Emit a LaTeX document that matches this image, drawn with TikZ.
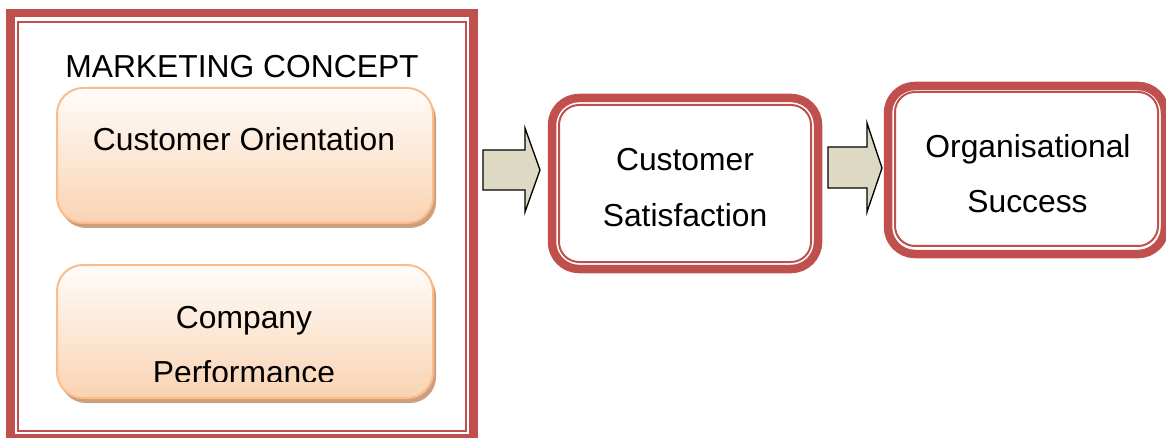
\documentclass[tikz,border=0pt]{standalone}
\usepackage{fontspec}
\setmainfont{Liberation Sans}
\usetikzlibrary{shadows}
\definecolor{framered}{RGB}{192,80,77}
\definecolor{peachline}{RGB}{250,188,138}
\definecolor{peachtop}{RGB}{255,252,250}
\definecolor{peachbot}{RGB}{249,211,178}
\definecolor{peachshadow}{RGB}{204,160,126}
\definecolor{arrowfill}{RGB}{221,217,195}
\tikzset{
  thickframe/.style={draw=framered, line width=8.5pt, inner sep=0pt, outer sep=0pt},
  thinframe/.style={draw=framered, line width=2pt, inner sep=0pt, outer sep=0pt},
  peachbox/.style={draw=peachline, line width=2pt, rounded corners=26pt,
     top color=peachtop, bottom color=peachbot, inner sep=0pt, outer sep=0pt,
     minimum width=376pt,
     drop shadow={shadow xshift=3pt, shadow yshift=-5pt, fill=peachshadow, opacity=1}},
  label/.style={font=\fontsize{31.8}{38}\selectfont, anchor=base, inner sep=0pt},
  blockarrow/.style={draw=black, fill=arrowfill, line width=1.3pt, line join=miter}
}
\begin{document}
\begin{tikzpicture}[x=1pt,y=-1pt]
\useasboundingbox (0,0) rectangle (1166,438);
% left frame
\node[thickframe, minimum width=463pt, minimum height=425pt] (frameout) at (242,225.5) {};
\node[thinframe, minimum width=447.7pt, minimum height=409.6pt] (framein) at (242.15,226.5) {};
\node[label] (title) at (242,78) {MARKETING CONCEPT};
% peach boxes
\node[peachbox, minimum height=135pt] (co) at (245,155.5) {};
\node[peachbox, minimum height=133pt] (cp) at (245,331.5) {};
\node[label] (cotext) at (244,151) {Customer Orientation};
\node[label] (cptext1) at (244,328) {Company};
\begin{scope}
\clip (0,0) rectangle (1166,381);
\node[label] (cptext2) at (244,383) {Performance};
\end{scope}
% middle box
\node[thickframe, rounded corners=27pt, minimum width=266pt, minimum height=171pt] (csout) at (685,183.5) {};
\node[thinframe, rounded corners=20pt, minimum width=252pt, minimum height=157pt] (csin) at (685,183.5) {};
\node[label] (cstext1) at (685,170.7) {Customer};
\node[label] (cstext2) at (685,226.7) {Satisfaction};
% right box
\node[thickframe, rounded corners=27pt, minimum width=277pt, minimum height=168pt] (osout) at (1026.5,170) {};
\node[thinframe, rounded corners=20pt, minimum width=263pt, minimum height=154pt] (osin) at (1026.5,169) {};
\node[label] (ostext1) at (1028,158) {Organisational};
\node[label] (ostext2) at (1027.5,213) {Success};
% block arrows
\draw[blockarrow] (483,150) -- (525,150) -- (525,128) -- (540,170) -- (525,212) -- (525,190) -- (483,190) -- cycle;
\draw[blockarrow] (828,147) -- (867,147) -- (867,123) -- (882,168) -- (867,212) -- (867,188) -- (828,188) -- cycle;
\end{tikzpicture}
\end{document}
